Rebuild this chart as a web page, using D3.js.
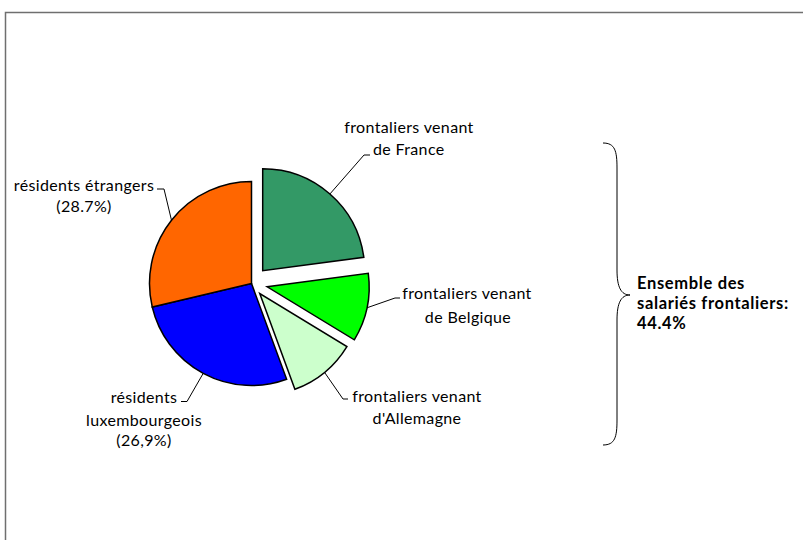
<!DOCTYPE html>
<html><head><meta charset="utf-8">
<script src="https://cdn.jsdelivr.net/npm/d3@7"></script>
<style>body{margin:0;background:#fff}svg{display:block}text{font-family:Lato,"Open Sans",sans-serif;fill:#000}</style>
</head><body>
<svg id="c" width="803" height="540"></svg>
<script>
const categories = ["frontaliers venant de France","frontaliers venant de Belgique","frontaliers venant d'Allemagne","résidents luxembourgeois","résidents étrangers"];
const values = [22.9, 10.8, 10.7, 26.9, 28.7];
const labelLines = [
  ["frontaliers venant","de France"],
  ["frontaliers venant","de Belgique"],
  ["frontaliers venant","d'Allemagne"],
  ["résidents","luxembourgeois","(26,9%)"],
  ["résidents étrangers","(28.7%)"]
];
const totalLabel = ["Ensemble des","salariés frontaliers:","44.4%"];
const colors = ["#339966","#00ff00","#ccffcc","#0000ff","#ff6600"];
const explode = [17, 16, 13, 0, 0];

const svg = d3.select("#c");
svg.append("path").attr("d","M5.5,540 V12.5 H803").attr("fill","none").attr("stroke","#6f6f6f").attr("stroke-width",1.5);

const cx = 251.5, cy = 283.5, R = 102;
const pie = d3.pie().sort(null).value(d=>d).startAngle(0).endAngle(2*Math.PI);
const arcs = pie(values);
const arc = d3.arc().innerRadius(0).outerRadius(R);
const g = svg.append("g").attr("transform",`translate(${cx},${cy})`);

function offs(d,i){const m=(d.startAngle+d.endAngle)/2;return [Math.sin(m)*explode[i], -Math.cos(m)*explode[i]];}

g.selectAll("path.s").data(arcs).join("path").attr("class","s")
  .attr("d",arc).attr("fill",(d,i)=>colors[i]).attr("stroke","#000").attr("stroke-width",1.5)
  .attr("stroke-linejoin","miter")
  .attr("transform",(d,i)=>{const o=offs(d,i);return `translate(${o[0]},${o[1]})`;});

const layout = [
  {elbow:[364,155], tick:[370,155], lines:[[409,127,"middle"],[373,149,"start"]]},
  {elbow:[395,298], tick:[400,298], lines:[[467,293,"middle"],[468,317,"middle"]]},
  {elbow:[343,399], tick:[348,399], lines:[[417,396,"middle"],[417,418,"middle"]]},
  {elbow:[187,401.5], tick:[181,401.5], lines:[[144,397,"middle"],[144,420,"middle"],[144,440,"middle"]]},
  {elbow:[164,189], tick:[157,189], lines:[[84,185,"middle"],[84,206,"middle"]]}
];
arcs.forEach((d,i)=>{
  const m=(d.startAngle+d.endAngle)/2, o=offs(d,i);
  const px=cx+o[0]+Math.sin(m)*R, py=cy+o[1]-Math.cos(m)*R;
  const L=layout[i];
  svg.append("path").attr("d",`M${px},${py} L${L.elbow[0]},${L.elbow[1]} L${L.tick[0]},${L.tick[1]}`)
    .attr("fill","none").attr("stroke","#000").attr("stroke-width",1);
  labelLines[i].forEach((t,j)=>{
    const [x,y,a]=L.lines[j];
    svg.append("text").attr("x",x).attr("y",y).attr("dy","0.35em").attr("text-anchor",a)
      .attr("font-size",16).attr("letter-spacing",0.35).text(t);
  });
});

const bx0=603, bx1=617, bx2=630, by0=143, bym=295, by1=445;
svg.append("path").attr("d",
 `M${bx0},${by0} C${bx1-2},${by0} ${bx1},${by0+8} ${bx1},${by0+25} L${bx1},${bym-25} C${bx1},${bym-8} ${bx1+4},${bym} ${bx2},${bym}`+
 ` C${bx1+4},${bym} ${bx1},${bym+8} ${bx1},${bym+25} L${bx1},${by1-25} C${bx1},${by1-8} ${bx1-2},${by1} ${bx0},${by1}`)
 .attr("fill","none").attr("stroke","#000").attr("stroke-width",1);

totalLabel.forEach((t,j)=>{
  svg.append("text").attr("x",637).attr("y",283+j*20).attr("dy","0.35em")
    .attr("font-size",16.5).attr("letter-spacing",0.65).attr("font-weight","bold").text(t);
});
</script>
</body></html>
